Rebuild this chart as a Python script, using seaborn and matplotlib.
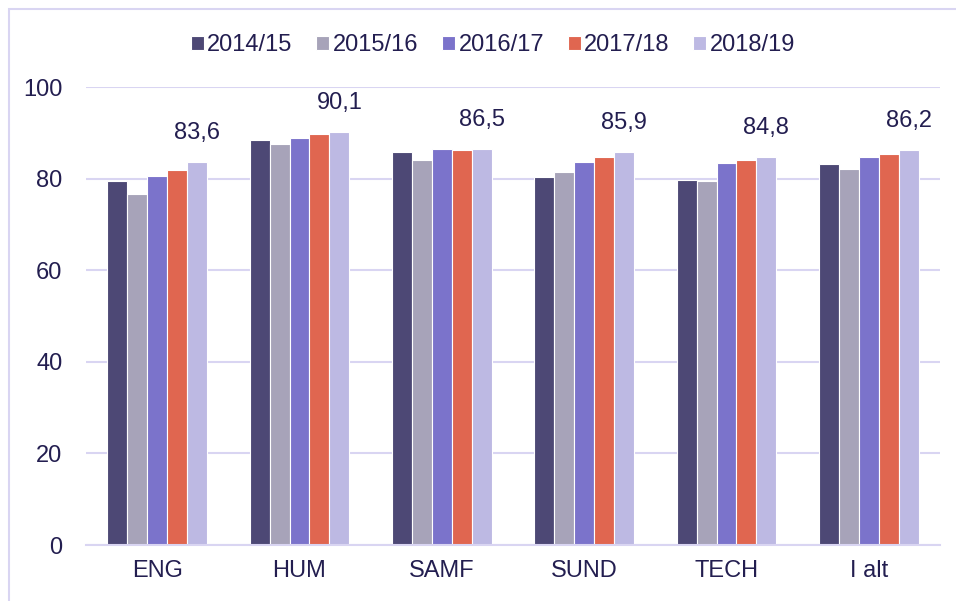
import numpy as np
import pandas as pd
import matplotlib
matplotlib.use("Agg")
import matplotlib.pyplot as plt
import seaborn as sns
from matplotlib.patches import Rectangle

categories = ["ENG", "HUM", "SAMF", "SUND", "TECH", "I alt"]
years = ["2014/15", "2015/16", "2016/17", "2017/18", "2018/19"]
v_2014 = [79.5, 88.4, 85.7, 80.3, 79.8, 83.2]
v_2015 = [76.7, 87.5, 84.1, 81.4, 79.5, 82.0]
v_2016 = [80.6, 88.8, 86.5, 83.7, 83.3, 84.8]
v_2017 = [81.8, 89.7, 86.2, 84.8, 84.1, 85.4]
v_2018 = [83.6, 90.1, 86.5, 85.9, 84.8, 86.2]
label_texts = ["83,6", "90,1", "86,5", "85,9", "84,8", "86,2"]
yticks = [0, 20, 40, 60, 80, 100]

colors = ["#4D4875", "#A7A3B9", "#7B73CB", "#E06650", "#BDB9E3"]
text_color = "#231E50"
grid_color = "#D9D5F2"

series = [v_2014, v_2015, v_2016, v_2017, v_2018]
rows = []
for y, vals in zip(years, series):
    for c, v in zip(categories, vals):
        rows.append({"cat": c, "year": y, "val": v})
df = pd.DataFrame(rows)

sns.set_theme(style="white")
plt.rcParams["font.family"] = ["Liberation Sans", "DejaVu Sans"]

fig = plt.figure(figsize=(9.56, 6.01), dpi=100)
ax = fig.add_axes([86/956, 1 - 545/601, (940-86)/956, (545-87)/601])

sns.barplot(data=df, x="cat", y="val", hue="year", palette=colors,
            order=categories, hue_order=years, width=0.7, ax=ax, saturation=1,
            edgecolor="white", linewidth=0.8, errorbar=None, legend=True)

ax.set_ylim(0, 100)
ax.set_xlim(-0.5, 5.5)
ax.set_yticks(yticks)
ax.set_yticklabels([str(t) for t in yticks])
ax.yaxis.grid(True, color=grid_color, linewidth=1.5)
ax.set_axisbelow(True)
for s in ["top", "right", "left"]:
    ax.spines[s].set_visible(False)
ax.spines["bottom"].set_color(grid_color)
ax.spines["bottom"].set_linewidth(1.5)
ax.tick_params(axis="y", length=0, pad=17, labelsize=17, labelcolor=text_color)
ax.tick_params(axis="x", length=0, pad=11, labelsize=17, labelcolor=text_color)
ax.set_xlabel("")
ax.set_ylabel("")

# data labels on last series
last = ax.containers[-1]
for bar, txt in zip(last, label_texts):
    ax.annotate(txt, (bar.get_x() + bar.get_width() / 2, bar.get_height()),
                xytext=(0, 13), textcoords="offset points", ha="center", va="bottom",
                fontsize=17, color=text_color)

leg = ax.legend(loc="center", bbox_to_anchor=(493/956, (601-45)/601), bbox_transform=fig.transFigure,
                ncol=5, frameon=False, fontsize=17, handlelength=0.55, handleheight=0.55,
                handletextpad=0.15, columnspacing=1.0, labelcolor=text_color)

# outer frame
fig.patches.append(Rectangle((9/956, -0.01), 1.0, 1 - 9/601 + 0.01, transform=fig.transFigure,
                             fill=False, edgecolor=grid_color, linewidth=1.5))

fig.savefig("out.png", dpi=100)
